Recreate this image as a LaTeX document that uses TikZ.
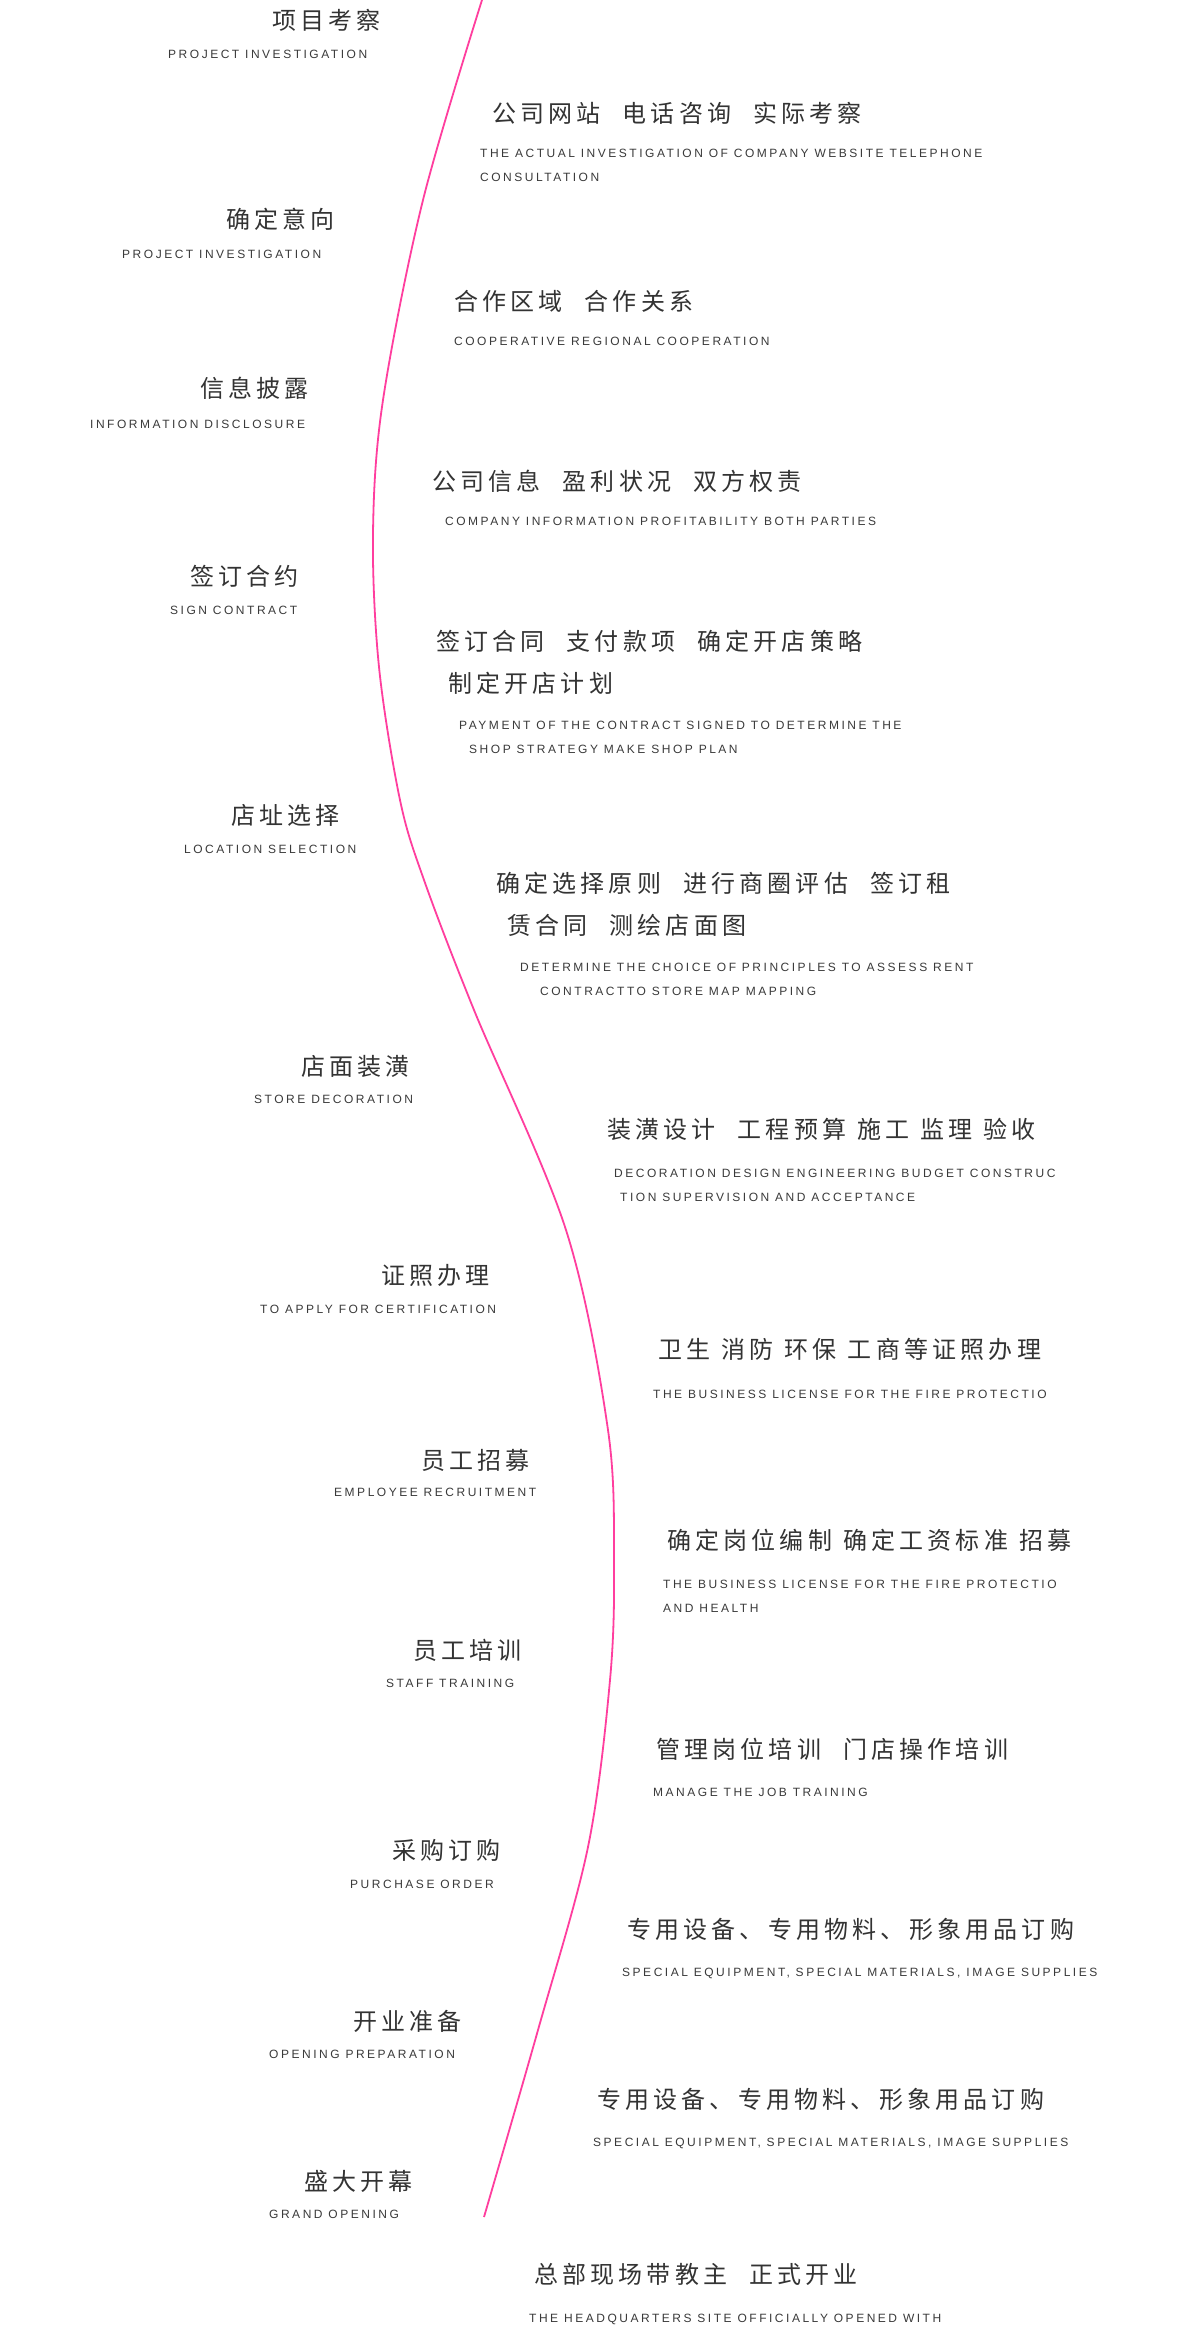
\documentclass[tikz,border=0pt]{standalone}
\usepackage{fontspec}
\newfontfamily\cjk[LetterSpace=17.5]{Noto Sans CJK SC}
\newfontfamily\lat[LetterSpace=21]{Liberation Sans}
\definecolor{cntxt}{HTML}{333333}
\definecolor{entxt}{HTML}{3A3A3A}
\definecolor{curvepink}{RGB}{255,62,158}
\newcommand\dg{\hspace{22pt}}
\newcommand\sg{\hspace{11pt}}
\begin{document}
\begin{tikzpicture}[x=1pt,y=-1pt,
  cn/.style={anchor=base west,inner sep=0pt,text=cntxt,font=\cjk\fontsize{24pt}{28pt}\selectfont},
  en/.style={anchor=base west,inner sep=0pt,text=entxt,font=\lat\fontsize{12pt}{14pt}\selectfont},
  curve/.style={draw=curvepink,line width=1.8pt}]
\useasboundingbox[fill=white] (0,0) rectangle (1200,2332);
% curve
\draw[curve] plot[smooth,tension=0.55] coordinates {(482,0) (423,200) (383,400) (373,533) (379,667) (400,800) (424,880) (474,1010) (566,1230) (608,1430) (614,1563) (610,1680) (588,1847) (538,2030) (484,2217)};
% left column
\node[cn] (l1) at (272,29) {项目考察};
\node[en] (le1) at (168,58) {PROJECT INVESTIGATION};
\node[cn] (l2) at (226,228) {确定意向};
\node[en] (le2) at (122,258) {PROJECT INVESTIGATION};
\node[cn] (l3) at (200,397) {信息披露};
\node[en] (le3) at (90,428) {INFORMATION DISCLOSURE};
\node[cn] (l4) at (190,585) {签订合约};
\node[en] (le4) at (170,614) {SIGN CONTRACT};
\node[cn] (l5) at (231,824) {店址选择};
\node[en] (le5) at (184,853) {LOCATION SELECTION};
\node[cn] (l6) at (301,1075) {店面装潢};
\node[en] (le6) at (254,1103) {STORE DECORATION};
\node[cn] (l7) at (381,1284) {证照办理};
\node[en] (le7) at (260,1313) {TO APPLY FOR CERTIFICATION};
\node[cn] (l8) at (421,1469) {员工招募};
\node[en] (le8) at (334,1496) {EMPLOYEE RECRUITMENT};
\node[cn] (l9) at (413,1659) {员工培训};
\node[en] (le9) at (386,1687) {STAFF TRAINING};
\node[cn] (l10) at (392,1859) {采购订购};
\node[en] (le10) at (350,1888) {PURCHASE ORDER};
\node[cn] (l11) at (353,2030) {开业准备};
\node[en] (le11) at (269,2058) {OPENING PREPARATION};
\node[cn] (l12) at (304,2190) {盛大开幕};
\node[en] (le12) at (269,2218) {GRAND OPENING};
% right column
\node[cn] (r1) at (492,122) {公司网站\dg 电话咨询\dg 实际考察};
\node[en] (re1a) at (480,157) {THE ACTUAL INVESTIGATION OF COMPANY WEBSITE TELEPHONE};
\node[en] (re1b) at (480,181) {CONSULTATION};
\node[cn] (r2) at (454,310) {合作区域\dg 合作关系};
\node[en] (re2) at (454,345) {COOPERATIVE REGIONAL COOPERATION};
\node[cn] (r3) at (432,490) {公司信息\dg 盈利状况\dg 双方权责};
\node[en] (re3) at (445,525) {COMPANY INFORMATION PROFITABILITY BOTH PARTIES};
\node[cn] (r4a) at (436,650) {签订合同\dg 支付款项\dg 确定开店策略};
\node[cn] (r4b) at (448,692) {制定开店计划};
\node[en] (re4a) at (459,729) {PAYMENT OF THE CONTRACT SIGNED TO DETERMINE THE};
\node[en] (re4b) at (469,753) {SHOP STRATEGY MAKE SHOP PLAN};
\node[cn] (r5a) at (496,892) {确定选择原则\dg 进行商圈评估\dg 签订租};
\node[cn] (r5b) at (507,934) {赁合同\dg 测绘店面图};
\node[en] (re5a) at (520,971) {DETERMINE THE CHOICE OF PRINCIPLES TO ASSESS RENT};
\node[en] (re5b) at (540,995) {CONTRACTTO STORE MAP MAPPING};
\node[cn] (r6) at (607,1138) {装潢设计\dg 工程预算\sg 施工\sg 监理\sg 验收};
\node[en] (re6a) at (614,1177) {DECORATION DESIGN ENGINEERING BUDGET CONSTRUC};
\node[en] (re6b) at (620,1201) {TION SUPERVISION AND ACCEPTANCE};
\node[cn] (r7) at (658,1358) {卫生\sg 消防\sg 环保\sg 工商等证照办理};
\node[en] (re7) at (653,1398) {THE BUSINESS LICENSE FOR THE FIRE PROTECTIO};
\node[cn] (r8) at (667,1549) {确定岗位编制\sg 确定工资标准\sg 招募};
\node[en] (re8a) at (663,1588) {THE BUSINESS LICENSE FOR THE FIRE PROTECTIO};
\node[en] (re8b) at (663,1612) {AND HEALTH};
\node[cn] (r9) at (656,1758) {管理岗位培训\dg 门店操作培训};
\node[en] (re9) at (653,1796) {MANAGE THE JOB TRAINING};
\node[cn] (r10) at (627,1938) {专用设备、专用物料、形象用品订购};
\node[en] (re10) at (622,1976) {SPECIAL EQUIPMENT, SPECIAL MATERIALS, IMAGE SUPPLIES};
\node[cn] (r11) at (597,2108) {专用设备、专用物料、形象用品订购};
\node[en] (re11) at (593,2146) {SPECIAL EQUIPMENT, SPECIAL MATERIALS, IMAGE SUPPLIES};
\node[cn] (r12) at (534,2283) {总部现场带教主\dg 正式开业};
\node[en] (re12) at (529,2322) {THE HEADQUARTERS SITE OFFICIALLY OPENED WITH};
\end{tikzpicture}
\end{document}
